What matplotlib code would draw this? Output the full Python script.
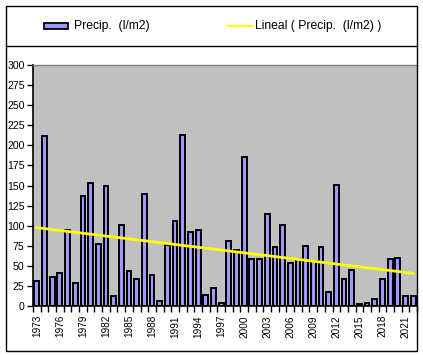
import matplotlib
matplotlib.use("Agg")
import matplotlib.pyplot as plt
import numpy as np
from matplotlib.patches import Rectangle
from matplotlib.lines import Line2D

years = list(range(1973, 2023))
precip = [31, 211, 36, 41, 94, 29, 137, 153, 77, 150,
          13, 101, 43, 33, 140, 38, 6, 76, 106, 213,
          92, 94, 14, 23, 4, 81, 70, 185, 58, 58,
          115, 73, 101, 53, 58, 75, 56, 74, 18, 151,
          33, 45, 3, 4, 9, 34, 59, 60, 13, 13]
yticks = list(range(0, 301, 25))
legend_bar = "Precip.  (l/m2)"
legend_line = "Lineal ( Precip.  (l/m2) )"

W, H = 423, 355
fig = plt.figure(figsize=(W / 100, H / 100), dpi=100)
fig.patch.set_facecolor("white")

font = ["Liberation Sans", "DejaVu Sans"]
narrow = ["Liberation Sans Narrow", "Liberation Sans", "DejaVu Sans"]

ax = fig.add_axes([33 / W, 1 - 306 / H, (417 - 33) / W, (306 - 65) / H])
ax.set_facecolor("#C0C0C0")

x = np.arange(len(years))
ax.bar(x, precip, width=0.62, color="#9999FF", edgecolor="black", linewidth=1.4, zorder=2)

coef = np.polyfit(x, precip, 1)
trend = np.polyval(coef, x)
ax.plot(x, trend, color="#FFFF00", linewidth=2.0, zorder=3)

ax.set_xlim(-0.5, len(years) - 0.5)
ax.set_ylim(0, 300)
ax.set_yticks(yticks)
ax.set_yticklabels([str(v) for v in yticks], fontfamily=font, fontsize=7.6)
ax.tick_params(axis="y", direction="out", length=4, width=1, colors="black", pad=2)

ax.set_xticks(x[::3])
ax.set_xticklabels([str(years[i]) for i in x[::3]], rotation=90, fontfamily=narrow, fontsize=7.2)
ax.tick_params(axis="x", which="major", length=0, pad=6.5)
ax.set_xticks(np.arange(-0.5, len(years), 1.0), minor=True)
ax.tick_params(axis="x", which="minor", direction="out", length=4, width=1, colors="black")

for s in ["left", "bottom"]:
    ax.spines[s].set_color("black")
    ax.spines[s].set_linewidth(1.2)
ax.spines["top"].set_color("#808080")
ax.spines["top"].set_linewidth(1.0)
ax.spines["right"].set_visible(False)

# outer frame
fig.add_artist(Rectangle((5.5 / W, 1 - 350.5 / H), 411 / W, 344.5 / H, transform=fig.transFigure,
                         fill=False, edgecolor="black", linewidth=1.0, zorder=10))
# legend box line
fig.add_artist(Line2D([5.5 / W, 416.5 / W], [1 - 46 / H, 1 - 46 / H], transform=fig.transFigure,
                      color="black", linewidth=1.0))
# legend entries
ly = 1 - 25.5 / H
fig.add_artist(Rectangle((44 / W, 1 - 28.5 / H), 23.5 / W, 6 / H, transform=fig.transFigure,
                         facecolor="#9999FF", edgecolor="black", linewidth=1.3))
fig.text(74 / W, ly, legend_bar, fontfamily=font, fontsize=8.7, va="center", ha="left")
fig.add_artist(Line2D([228 / W, 253 / W], [ly, ly], transform=fig.transFigure,
                      color="#FFFF00", linewidth=1.5))
fig.text(255 / W, ly, legend_line, fontfamily=font, fontsize=8.7, va="center", ha="left")

fig.savefig("out.png", dpi=100)
